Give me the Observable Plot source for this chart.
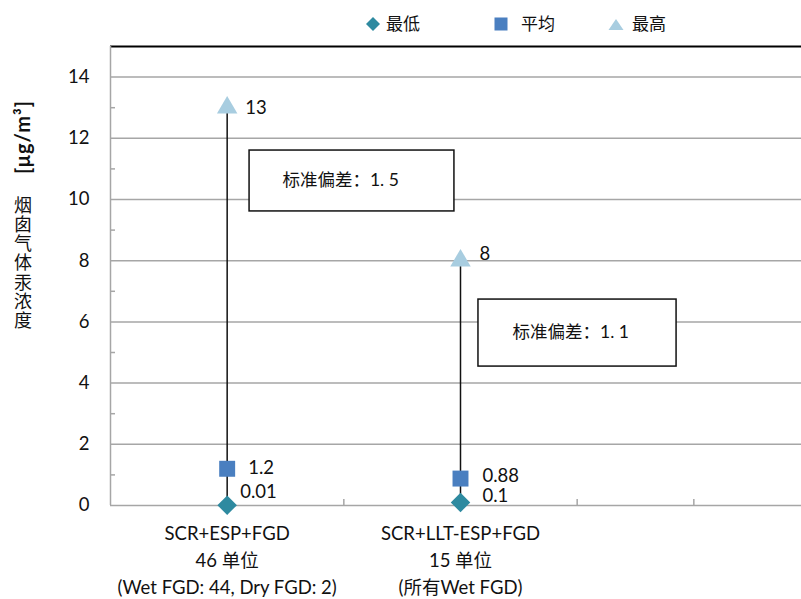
<!DOCTYPE html>
<html><head><meta charset="utf-8">
<script src="https://cdn.jsdelivr.net/npm/d3@7"></script>
<script src="https://cdn.jsdelivr.net/npm/@observablehq/plot@0.6"></script>
<style>
body{margin:0;background:#fff;font-family:Lato,"Noto Sans CJK SC",sans-serif;color:#111;}
#wrap{position:relative;width:801px;height:599px;overflow:hidden;}
#wrap svg{position:absolute;left:0;top:0;}
.leg{position:absolute;top:13px;font-size:17px;line-height:22px;}
.ytitle{position:absolute;left:22px;top:137px;transform:translate(-50%,-50%) rotate(-90deg);font-size:20px;font-weight:bold;white-space:nowrap;letter-spacing:1px;}
.ytitle2{position:absolute;left:12px;top:196px;width:20px;font-size:18px;line-height:20px;writing-mode:vertical-rl;text-orientation:upright;letter-spacing:1.2px;}
</style></head><body>
<div id="wrap"></div>
<script>
const categories = ["SCR+ESP+FGD", "SCR+LLT-ESP+FGD"];
const categoryUnits = ["46 单位", "15 单位"];
const categoryNotes = ["(Wet FGD: 44, Dry FGD: 2)", "(所有Wet FGD)"];
const minValues = [0.01, 0.1];
const meanValues = [1.2, 0.88];
const maxValues = [13, 8];
const stdDevs = [1.5, 1.1];
const yTicks = [0, 2, 4, 6, 8, 10, 12, 14];
const yMinorTicks = [1, 3, 5, 7, 9, 11, 13];
const categoryBoundaries = [1, 2, 2.5];
const legendLabels = ["最低", "平均", "最高"];
const yTitle = "[μg/m³]";
const yTitle2 = "烟囱气体汞浓度";
const stdLabelPrefix = "标准偏差：";

const colMin = "#2e8aa0", colMean = "#4a7fc0", colMax = "#a8cde0";
const rows = categories.map((c, i) => ({
  i, pos: i + 0.5, cat: c, unit: categoryUnits[i], note: categoryNotes[i],
  min: minValues[i], mean: meanValues[i], max: maxValues[i], sd: stdDevs[i]
}));

// annotation boxes (data coordinates)
const boxes = [
  {x1: 0.596, x2: 1.474, y1: 9.61, y2: 11.6, tx: 0.737, ty: 10.62, sd: stdDevs[0]},
  {x1: 1.577, x2: 2.426, y1: 4.54, y2: 6.73, tx: 1.723, ty: 5.65, sd: stdDevs[1]}
];

const maxOff = [[18, 0], [19, -7]];
const meanOff = [[21, -1], [22, -2]];
const minOff = [[13, -13], [22, -6]];
const labelMarks = [];
const vf = 18.5;
rows.forEach((r, k) => {
  labelMarks.push(Plot.text([r], {x: "pos", y: "max", text: d => String(d.max), textAnchor: "start", dx: maxOff[k][0], dy: maxOff[k][1], fontSize: vf, fill: "#111"}));
  labelMarks.push(Plot.text([r], {x: "pos", y: "mean", text: d => String(d.mean), textAnchor: "start", dx: meanOff[k][0], dy: meanOff[k][1], fontSize: vf, fill: "#111"}));
  labelMarks.push(Plot.text([r], {x: "pos", y: "min", text: d => String(d.min), textAnchor: "start", dx: minOff[k][0], dy: minOff[k][1], fontSize: vf, fill: "#111"}));
});

const chart = Plot.plot({
  width: 801, height: 599,
  marginLeft: 110, marginRight: 0, marginTop: 46, marginBottom: 94,
  style: {fontFamily: 'Lato, "Noto Sans CJK SC", sans-serif', background: "transparent", overflow: "visible"},
  x: {type: "linear", domain: [0, 3], range: [110, 810], axis: null},
  y: {domain: [0, 15], range: [505, 46], axis: null},
  marks: [
    Plot.ruleY(yTicks.filter(d => d > 0), {stroke: "#a6a6a6", strokeWidth: 1.5}),
    Plot.ruleY([0], {stroke: "#a6a6a6", strokeWidth: 1.5}),
    Plot.ruleY([15], {stroke: "#000", strokeWidth: 1.8}),
    Plot.ruleX([0], {y1: 0, y2: 15, stroke: "#a6a6a6", strokeWidth: 1.5}),
    Plot.axisY({ticks: yMinorTicks, tickSize: -5, tickFormat: () => "", stroke: "#a6a6a6", strokeWidth: 1.5}),
    Plot.axisY({ticks: yTicks, tickSize: 0, tickPadding: 21, fontSize: 18.5, fill: "#111", tickFormat: d => String(d)}),
    Plot.axisX({ticks: categoryBoundaries, tickSize: -6, tickFormat: () => "", stroke: "#a6a6a6", strokeWidth: 1.5, anchor: "bottom"}),
    Plot.text(rows, {x: "pos", y: 0, text: d => `${d.cat}\n${d.unit}\n${d.note}`, lineAnchor: "top", dy: 16, lineHeight: 1.44, fontSize: 18.5, fill: "#111"}),
    Plot.ruleX(rows, {x: "pos", y1: "min", y2: "max", stroke: "#111", strokeWidth: 1.5}),
    Plot.rect(boxes, {x1: "x1", x2: "x2", y1: "y1", y2: "y2", fill: "#fff", stroke: "#111", strokeWidth: 1.5}),
    Plot.text(boxes, {x: "tx", y: "ty", text: d => stdLabelPrefix + d.sd.toFixed(1).replace(".", ". "), textAnchor: "start", fontSize: 17.5, fill: "#111"}),
    Plot.dot(rows, {x: "pos", y: "min", symbol: "diamond2", r: 8.8, fill: colMin, stroke: "none"}),
    Plot.dot(rows, {x: "pos", y: "mean", symbol: "square", r: 9, fill: colMean, stroke: "none"}),
    Plot.dot(rows, {x: "pos", y: "max", symbol: "triangle", r: 7.6, fill: colMax, stroke: "none"}),
    ...labelMarks
  ]
});
const wrap = document.getElementById("wrap");
wrap.appendChild(chart);

// legend
const legSpecs = [
  {sym: "diamond", color: colMin, left: 366, textLeft: 386},
  {sym: "square", color: colMean, left: 494, textLeft: 521},
  {sym: "triangle", color: colMax, left: 608, textLeft: 632}
];
legSpecs.forEach((s, i) => {
  const m = document.createElement("div");
  m.style.position = "absolute";
  m.style.left = s.left + "px";
  m.style.top = "17px";
  let svg;
  if (s.sym === "diamond") svg = `<svg width="14" height="14"><path d="M7 0L14 7L7 14L0 7Z" fill="${s.color}"/></svg>`;
  else if (s.sym === "square") svg = `<svg width="14" height="14"><rect x="0.5" y="0.5" width="13" height="13" fill="${s.color}"/></svg>`;
  else svg = `<svg width="16" height="14"><path d="M8 2L15.5 13H0.5Z" fill="${s.color}"/></svg>`;
  m.innerHTML = svg;
  wrap.appendChild(m);
  const t = document.createElement("div");
  t.className = "leg";
  t.style.left = s.textLeft + "px";
  t.textContent = legendLabels[i];
  wrap.appendChild(t);
});
const yt = document.createElement("div");
yt.className = "ytitle"; yt.textContent = yTitle; wrap.appendChild(yt);
const yt2 = document.createElement("div");
yt2.className = "ytitle2"; yt2.textContent = yTitle2; wrap.appendChild(yt2);
</script>
</body></html>
